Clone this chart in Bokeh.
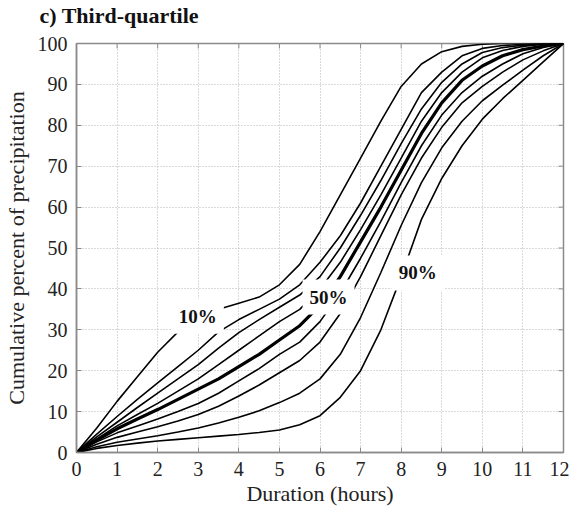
import math
from bokeh.plotting import figure
from bokeh.models import Label, FixedTicker, Range1d
from bokeh.embed import file_html
from bokeh.resources import INLINE

# ---- data ----
hours = [0, 0.5, 1, 1.5, 2, 2.5, 3, 3.5, 4, 4.5, 5, 5.5, 6,
         6.5, 7, 7.5, 8, 8.5, 9, 9.5, 10, 10.5, 11, 11.5, 12]

p10 = [0, 6, 12.5, 18.5, 24.5, 29.5, 33, 35, 36.5, 38, 41, 46, 54,
       63, 72, 81, 89.5, 95, 98, 99.3, 99.8, 100, 100, 100, 100]
p20 = [0, 4.5, 8.8, 13, 17, 21, 25, 29.5, 32.5, 35, 37.5, 41, 46.5,
       53, 61, 70, 79, 88, 93, 97, 98.8, 99.5, 99.8, 100, 100]
p30 = [0, 3.8, 7.4, 11, 14.5, 18, 21.5, 25.5, 29.3, 32.5, 35.5, 38.5, 43,
       50, 58, 66.5, 75.5, 84, 90.5, 95, 97.8, 99, 99.6, 99.9, 100]
p40 = [0, 3.3, 6.5, 9.3, 12, 15, 18, 21.5, 25, 28.5, 32, 35, 40,
       46.5, 54.5, 63, 72, 81, 88, 93, 96.5, 98.3, 99.3, 99.8, 100]
p50 = [0, 3, 5.8, 8.2, 10.5, 13, 15.5, 18, 21, 24, 27.5, 31, 36,
       43, 51.5, 60, 69, 78, 85.5, 91, 94.5, 97, 98.5, 99.4, 100]
p60 = [0, 2.6, 4.8, 6.5, 8.2, 10, 12, 14.5, 17.5, 20.5, 24, 27, 32,
       39, 47.5, 56.5, 66, 75, 82.5, 88, 92, 95, 97.5, 99, 100]
p70 = [0, 2, 3.7, 5, 6.3, 7.7, 9.3, 11.3, 13.8, 16.5, 19.5, 22.5, 27,
       34, 43, 53, 63, 72, 79.5, 85.5, 89.5, 93, 96, 98.2, 100]
p80 = [0, 1.4, 2.5, 3.3, 4.1, 5, 6, 7.2, 8.6, 10.2, 12.2, 14.5, 18,
       24, 33, 44, 55.5, 66, 74.5, 81, 86, 89.8, 93.5, 97, 100]
p90 = [0, 1, 1.7, 2.3, 2.8, 3.2, 3.6, 4, 4.4, 4.9, 5.5, 6.8, 9,
       13.5, 20, 30, 43, 57, 67, 75, 81.5, 86.5, 91, 95.5, 100]

curves = [p10, p20, p30, p40, p50, p60, p70, p80, p90]
curve_names = ["10%", "20%", "30%", "40%", "50%", "60%", "70%", "80%", "90%"]

x_ticks = [0, 1, 2, 3, 4, 5, 6, 7, 8, 9, 10, 11, 12]
y_ticks = [0, 10, 20, 30, 40, 50, 60, 70, 80, 90, 100]

label_texts = ["10%", "50%", "90%"]
label_x = [2.99, 6.21, 8.41]
label_y = [33.3, 38.0, 43.9]

FONT = "Liberation Serif"
AX = "#8a8a8a"

# the trailing empty line keeps a gap between the title and the frame
p = figure(width=569, height=508, x_range=Range1d(0, 12), y_range=Range1d(0, 100),
           output_backend="svg", toolbar_location=None,
           min_border_left=69, min_border_right=6, min_border_top=43, min_border_bottom=54,
           title="c) Third-quartile\n")

xax = p.below[0]
yax = p.left[0]

p.title.text_font = FONT
p.title.text_font_style = "bold"
p.title.text_font_size = "22px"
p.title.text_line_height = 0.55
p.title.align = "left"
p.title.vertical_align = "top"
p.title.offset = -37
p.title.standoff = 0
p.title.text_color = "#111111"

p.outline_line_color = AX
p.outline_line_width = 1.5
p.background_fill_color = "white"
p.border_fill_color = "white"

for ax in (xax, yax):
    ax.major_tick_in = 5
    ax.major_tick_out = 0
    ax.minor_tick_line_color = None
    ax.axis_line_color = AX
    ax.axis_line_width = 1.5
    ax.major_tick_line_color = AX
    ax.major_label_text_font = FONT
    ax.major_label_text_font_size = "20px"
    ax.major_label_text_color = "#222222"
    ax.axis_label_text_font = FONT
    ax.axis_label_text_font_size = "22px"
    ax.axis_label_text_font_style = "normal"
    ax.axis_label_text_color = "#222222"

xax.ticker = FixedTicker(ticks=x_ticks)
yax.ticker = FixedTicker(ticks=y_ticks)
xax.axis_label = "Duration (hours)"
yax.axis_label = "Cumulative percent of precipitation"
xax.major_label_standoff = 9
xax.axis_label_standoff = 2
yax.major_label_standoff = 9
yax.axis_label_standoff = 6

p.xgrid.ticker = FixedTicker(ticks=x_ticks)
p.ygrid.ticker = FixedTicker(ticks=y_ticks)
p.grid.grid_line_color = "#b4b4b4"
p.grid.grid_line_dash = "1 2"
p.grid.grid_line_width = 1

# inward tick marks on the top and right edges (half of each dash is clipped by the frame)
p.scatter(x=x_ticks, y=[y_ticks[-1]] * len(x_ticks), marker="dash", angle=math.pi / 2,
          size=10, line_color=AX, line_width=1)
p.scatter(x=[x_ticks[-1]] * len(y_ticks), y=y_ticks, marker="dash",
          size=10, line_color=AX, line_width=1)

for name, vals in zip(curve_names, curves):
    p.line(hours, vals, line_color="black",
           line_width=3.2 if name == "50%" else 1.6)

for t, lx, ly in zip(label_texts, label_x, label_y):
    p.add_layout(Label(x=lx, y=ly, text=t, text_font=FONT, text_font_style="bold",
                       text_font_size="19px", text_align="center", text_baseline="middle",
                       text_color="#111111", background_fill_color="white", padding=7))

open("out.html", "w").write(file_html(p, INLINE))
